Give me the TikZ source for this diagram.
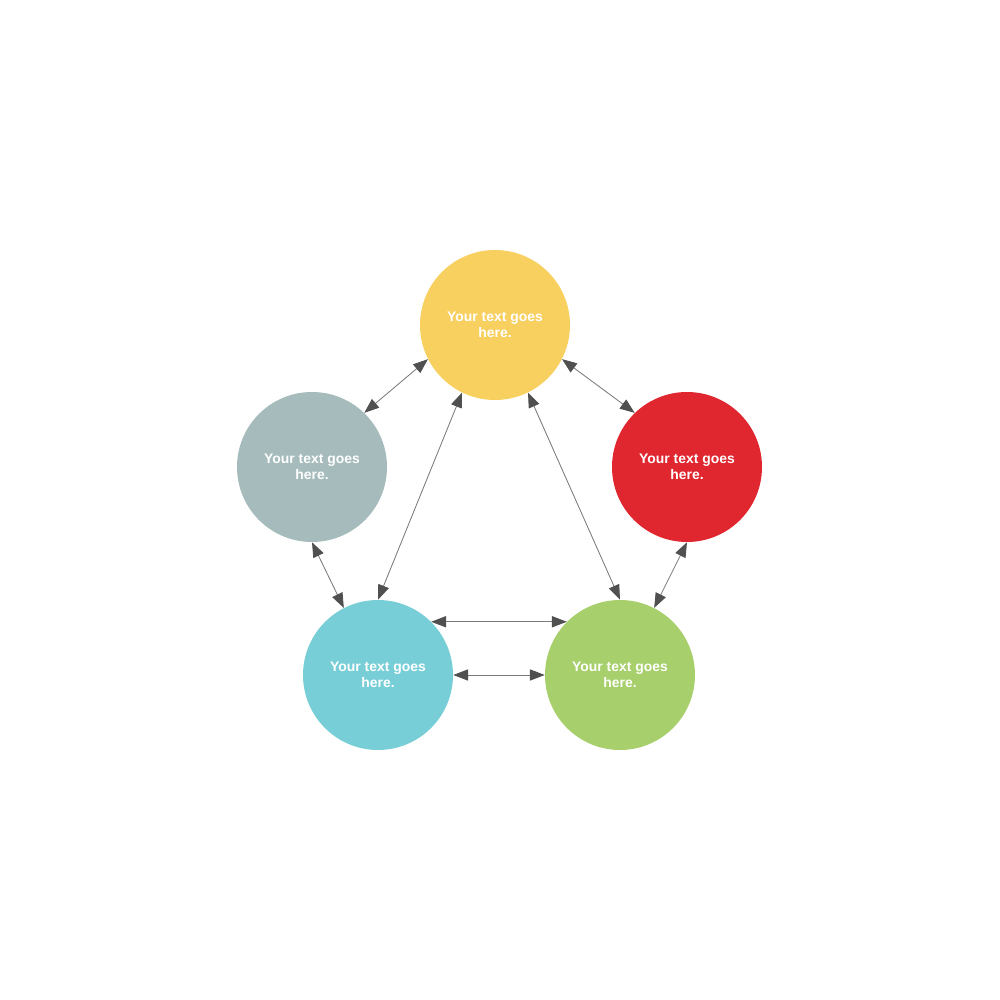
\documentclass[tikz,border=0pt]{standalone}
\usepackage{fontspec}
\setmainfont{Liberation Sans}
\usetikzlibrary{arrows.meta}

\definecolor{cyellow}{HTML}{F7D060}
\definecolor{cgray}{HTML}{A6BBBB}
\definecolor{cred}{HTML}{E0262F}
\definecolor{ccyan}{HTML}{78CED7}
\definecolor{cgreen}{HTML}{A7CF6B}
\definecolor{linegray}{HTML}{7A7A7A}
\definecolor{tipgray}{HTML}{505050}

\tikzset{
	bubble/.style={circle, minimum size=150*0.25mm, inner sep=0pt, text=white,
		font=\fontsize{9.9}{11.4}\selectfont\bfseries, align=center},
	link/.style={line width=0.6pt, color=linegray,
		{Triangle[length=3.7mm,width=2.8mm,color=tipgray]}-{Triangle[length=3.7mm,width=2.8mm,color=tipgray]}}
}

\begin{document}
\begin{tikzpicture}[x=0.25mm,y=0.25mm]
	\useasboundingbox (0,0) rectangle (1000,1000);
	
	%circles
	\node[bubble, fill=cyellow] (top)   at (495,675) {Your text goes\\here.};
	\node[bubble, fill=cgray]   (left)  at (312,533) {Your text goes\\here.};
	\node[bubble, fill=cred]    (right) at (687,533) {Your text goes\\here.};
	\node[bubble, fill=ccyan]   (botl)  at (378,325) {Your text goes\\here.};
	\node[bubble, fill=cgreen]  (botr)  at (620,325) {Your text goes\\here.};
	
	%arrows
	\draw[link] (top.207) -- (left.46);
	\draw[link] (top.333) -- (right.134);
	\draw[link] (top.244) -- (botl.90);
	\draw[link] (top.296) -- (botr.90);
	\draw[link] (left.270) -- (botl.117);
	\draw[link] (right.270) -- (botr.63);
	\draw[link] (botl.45) -- (botr.135);
	\draw[link] (botl.0) -- (botr.180);
	%\draw[help lines] (0,0) grid[step=100] (1000,1000);
\end{tikzpicture}
\end{document}
